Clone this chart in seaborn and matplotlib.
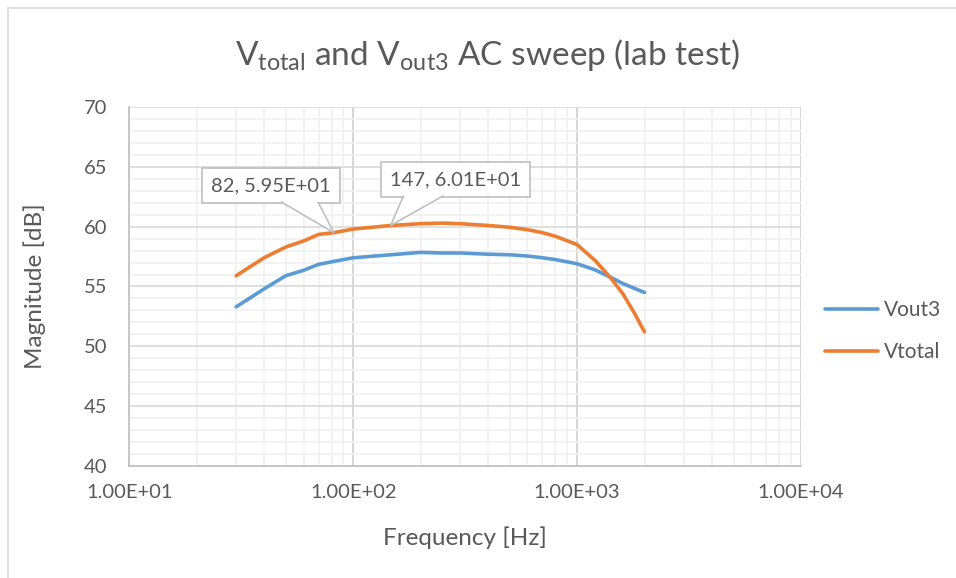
import numpy as np
import pandas as pd
import seaborn as sns
import matplotlib
matplotlib.use("Agg")
import matplotlib.pyplot as plt
from matplotlib.ticker import FixedLocator, FuncFormatter, NullFormatter
from matplotlib.lines import Line2D
from matplotlib.patches import Polygon
from matplotlib.transforms import IdentityTransform

# Measured sweep: frequency [Hz] and magnitude [dB]
freq_hz = [30, 40, 50, 60, 70, 82, 100, 147, 200, 250, 300, 400, 500, 600,
           700, 800, 1000, 1200, 1400, 1600, 1800, 2000]
vout3_db = [53.3, 54.8, 55.9, 56.35, 56.85, 57.1, 57.4, 57.65, 57.85, 57.8, 57.8,
            57.7, 57.65, 57.55, 57.4, 57.25, 56.9, 56.4, 55.8, 55.25, 54.85, 54.5]
vtotal_db = [55.9, 57.4, 58.3, 58.8, 59.35, 59.5, 59.8, 60.1, 60.25, 60.3, 60.25,
             60.1, 59.95, 59.75, 59.5, 59.2, 58.5, 57.2, 55.8, 54.4, 52.8, 51.2]

series_names = ["Vout3", "Vtotal"]
series_colors = ["#5b9bd5", "#ed7d31"]

# Callouts: (frequency, magnitude)
callouts = [(82, 59.5), (147, 60.1)]

x_ticks = [1e1, 1e2, 1e3, 1e4]
y_ticks = [40, 45, 50, 55, 60, 65, 70]

df = pd.DataFrame({
    "Frequency": freq_hz * 2,
    "Magnitude": vout3_db + vtotal_db,
    "Series": [series_names[0]] * len(freq_hz) + [series_names[1]] * len(freq_hz),
})

sns.set_theme(style="white")
plt.rcParams["font.family"] = ["Lato", "DejaVu Sans"]
plt.rcParams["mathtext.fontset"] = "custom"
plt.rcParams["mathtext.rm"] = "Lato"
plt.rcParams["mathtext.it"] = "Lato:italic"
plt.rcParams["mathtext.bf"] = "Lato:bold"

TXT = "#595959"
EDGE = "#bfbfbf"

fig = plt.figure(figsize=(9.56, 5.78), dpi=100)
ax = fig.add_axes([129.3 / 956, 1 - 466 / 578, (801 - 129.3) / 956, (466 - 107) / 578])

sns.lineplot(data=df, x="Frequency", y="Magnitude", hue="Series",
             hue_order=series_names, palette=series_colors, linewidth=2.6,
             ax=ax, legend=False, solid_capstyle="round", solid_joinstyle="round")

ax.set_xscale("log")
ax.set_xlim(1e1, 1e4)
ax.set_ylim(40, 70)

# Grid: major decades / 5 dB, minor 2..9 / 1 dB
ax.xaxis.set_major_locator(FixedLocator(x_ticks))
minor_x = [m * d for d in (1e1, 1e2, 1e3) for m in range(2, 10)]
ax.xaxis.set_minor_locator(FixedLocator(minor_x))
ax.xaxis.set_minor_formatter(NullFormatter())
ax.xaxis.set_major_formatter(FuncFormatter(lambda v, p: f"{v:.2E}"))
ax.yaxis.set_major_locator(FixedLocator(y_ticks))
ax.yaxis.set_minor_locator(FixedLocator(list(range(40, 71))))

ax.grid(which="major", axis="x", color="#d0d0d0", linewidth=1.2)
ax.grid(which="major", axis="y", color="#d9d9d9", linewidth=1.2)
ax.grid(which="minor", color="#f0f0f0", linewidth=1.2)
ax.set_axisbelow(True)

for s in ("top", "right"):
    ax.spines[s].set_visible(False)
for s in ("left", "bottom"):
    ax.spines[s].set_color(EDGE)
    ax.spines[s].set_linewidth(1.2)

ax.tick_params(which="both", length=0)
ax.tick_params(axis="x", pad=13, labelsize=14.5, colors=TXT)
ax.tick_params(axis="y", pad=16, labelsize=14.5, colors=TXT)

ax.set_xlabel("Frequency [Hz]", fontsize=17.5, color=TXT, labelpad=18)
ax.set_ylabel("Magnitude [dB]", fontsize=17.5, color=TXT, labelpad=27)

fig.text(488 / 956, 1 - 55 / 578,
         r"V$_{\mathrm{total}}$ and V$_{\mathrm{out3}}$ AC sweep (lab test)",
         ha="center", va="center", fontsize=24, color=TXT)

# Data callouts: a box with a wedge pointing at the value
offsets = [(-63, 47), (65, 46)]
wedge_bases = [(-53, -16), (13, 53)]
anns = []
for (fx, fy), (dx, dy) in zip(callouts, offsets):
    a = ax.annotate(f"{fx:g}, {fy:.2E}", xy=(fx, fy),
                    xytext=(dx, dy), textcoords="offset pixels",
                    ha="center", va="center", fontsize=14.5, color=TXT, zorder=5,
                    bbox=dict(boxstyle="square,pad=0.45", fc="white", ec=EDGE, lw=1.2))
    anns.append(a)

fig.canvas.draw()
for (fx, fy), a, (b0, b1) in zip(callouts, anns, wedge_bases):
    tx, ty = ax.transData.transform((fx, fy))
    box = a.get_bbox_patch().get_window_extent()
    base_y = box.y0 + 1.5
    verts = [(tx + b0, base_y), (tx, ty), (tx + b1, base_y)]
    fig.add_artist(Polygon(verts, closed=False, fc="white", ec=EDGE, lw=1.2,
                           transform=IdentityTransform(), zorder=6))

# Legend
handles = [Line2D([0], [0], color=c, lw=2.6, solid_capstyle="round") for c in series_colors]
fig.legend(handles, series_names, loc="center left",
           bbox_to_anchor=(825 / 956, 1 - 331 / 578), frameon=False,
           borderpad=0, borderaxespad=0,
           fontsize=15, labelcolor=TXT, handlelength=2.55, handletextpad=0.3,
           labelspacing=1.05)

# Chart area border
fig.add_artist(Line2D([8 / 956, 8 / 956], [0, 1 - 8 / 578], color="#d9d9d9", lw=1.2,
                      transform=fig.transFigure))
fig.add_artist(Line2D([8 / 956, 1], [1 - 8 / 578, 1 - 8 / 578], color="#d9d9d9", lw=1.2,
                      transform=fig.transFigure))

fig.savefig("out.png", dpi=100, facecolor="white")
